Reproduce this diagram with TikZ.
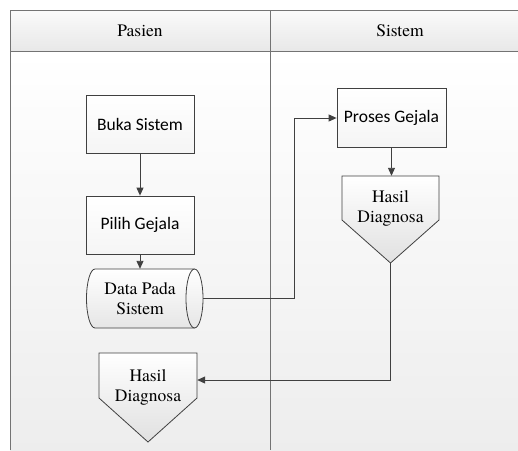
\documentclass[tikz,border=0pt]{standalone}
\usepackage{fontspec}
\newfontfamily\timesfont{texgyretermes-regular.otf}
\newfontfamily\calfont{Carlito}
\usetikzlibrary{arrows.meta,calc}
\begin{document}
\begin{tikzpicture}[x=1pt,y=-1pt,
  lane/.style={draw=black!55,line width=0.9pt},
  shapeline/.style={draw=black!75,line width=0.8pt},
  flow/.style={draw=black!75,line width=0.9pt,-{Triangle[length=8pt,width=7pt]}},
  box/.style={shapeline,top color=white,bottom color=white!96!black,minimum width=108pt,minimum height=58pt,inner sep=0pt,font=\calfont\fontsize{17.5}{21}\selectfont},
  lbl/.style={font=\timesfont\fontsize{17.5}{20}\selectfont,align=center,inner sep=0pt},
  frame/.style={minimum width=#1,inner sep=0pt,draw=none}]
\useasboundingbox (0,0) rectangle (518,450);
\fill[white] (0,0) rectangle (518,450);
% swimlanes
\shade[top color=white,bottom color=black!7] (10,51) rectangle (518,450);
\shade[top color=white!98!black,bottom color=black!9] (10,10) rectangle (518,51);
\draw[lane] (518,10) -- (10,10) -- (10,450);
\draw[lane] (10,51) -- (518,51);
\draw[lane] (270,10) -- (270,450);
\node[lbl] (pasien) at (140,30.5) {Pasien};
\node[lbl] (sistem) at (400,30.5) {Sistem};
% process boxes
\node[box] (buka) at (140,124) {Buka Sistem};
\node[box] (pilih) at (140,225) {Pilih Gejala};
\node[box,minimum width=109pt,minimum height=59pt] (proses) at (391.5,117.5) {Proses Gejala};
% stored data (cylinder)
\path[shapeline,top color=white,bottom color=black!10]
  (95,269) -- (194.5,269) arc[start angle=-90,end angle=90,x radius=8.5,y radius=29.5]
  -- (95,328) arc[start angle=90,end angle=270,x radius=8.5,y radius=29.5] -- cycle;
\draw[shapeline] (194.5,269) arc[start angle=-90,end angle=-270,x radius=8.5,y radius=29.5];
\node[frame=116.5pt,minimum height=59pt] (data) at (144.75,298.5) {};
\node[lbl] (datatxt) at (140,298.5) {Data Pada\\Sistem};
% off-page connectors
\path[shapeline,top color=white,bottom color=black!12]
  (342,176) -- (439,176) -- (439,220) -- (390.5,263) -- (342,220) -- cycle;
\node[frame=97pt,minimum height=87pt] (hasilR) at (390.5,219.5) {};
\node[lbl] (hasilRtxt) at (390.5,208.5) {Hasil\\Diagnosa};
\path[shapeline,top color=white,bottom color=black!12]
  (99,353) -- (197,353) -- (197,398) -- (148,442) -- (99,398) -- cycle;
\node[frame=98pt,minimum height=89pt] (hasilL) at (148,397.5) {};
\node[lbl] (hasilLtxt) at (148,387) {Hasil\\Diagnosa};
% connectors
\coordinate (j1) at (294,118);
\coordinate (j2) at (391,380);
\draw[flow] (buka.south) -- (pilih.north);
\draw[flow] (pilih.south) -- (data.north -| pilih.south);
\draw[flow] (proses.south) -- (proses.south |- hasilR.north);
\draw[flow] (data.east) -| (j1) -- (proses.west |- j1);
\draw[flow] (hasilR.south) -- (hasilR.south |- j2) -- (hasilL.east |- j2);
\end{tikzpicture}
\end{document}
